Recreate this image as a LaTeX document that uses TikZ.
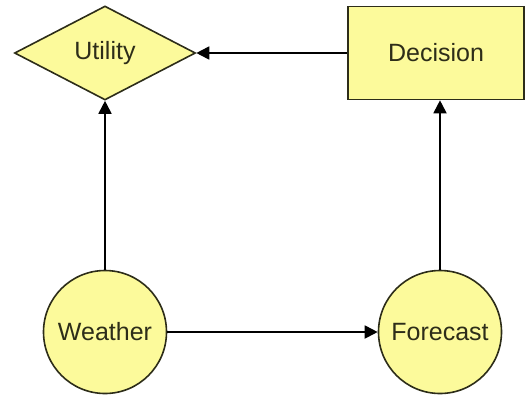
\documentclass[tikz,border=0pt]{standalone}
\usepackage{fontspec}
\setmainfont{Liberation Sans}
\usetikzlibrary{shapes.geometric,arrows.meta}
\definecolor{nodefill}{RGB}{252,250,155}
\definecolor{nodeline}{RGB}{45,45,25}

\begin{document}
\begin{tikzpicture}
[
    x=1pt, y=-1pt,
    base/.style={fill=nodefill, draw=nodeline, line width=1.6pt, inner sep=0pt,
        font=\fontsize{25}{30}\selectfont, text=nodeline},
    chance/.style={base, circle, minimum size=123pt},
    utility/.style={base, diamond, minimum width=181pt, minimum height=94pt},
    decision/.style={base, rectangle, minimum width=176pt, minimum height=93pt},
    link/.style={line width=1.8pt, -{Triangle[length=13pt, width=13pt]}},
]
\useasboundingbox (0,0) rectangle (527,397);
\node [utility] (utility) at (105,53) {Utility};
\node [decision] (decision) at (436,53) {Decision};
\node [chance] (weather) at (105,332) {Weather};
\node [chance] (forecast) at (440,332) {Forecast};
\draw [link] (decision) -- (utility);
\draw [link] (weather) -- (utility);
\draw [link] (weather) -- (forecast);
\draw [link] (forecast) -- (forecast |- decision.south);
\end{tikzpicture}
\end{document}
